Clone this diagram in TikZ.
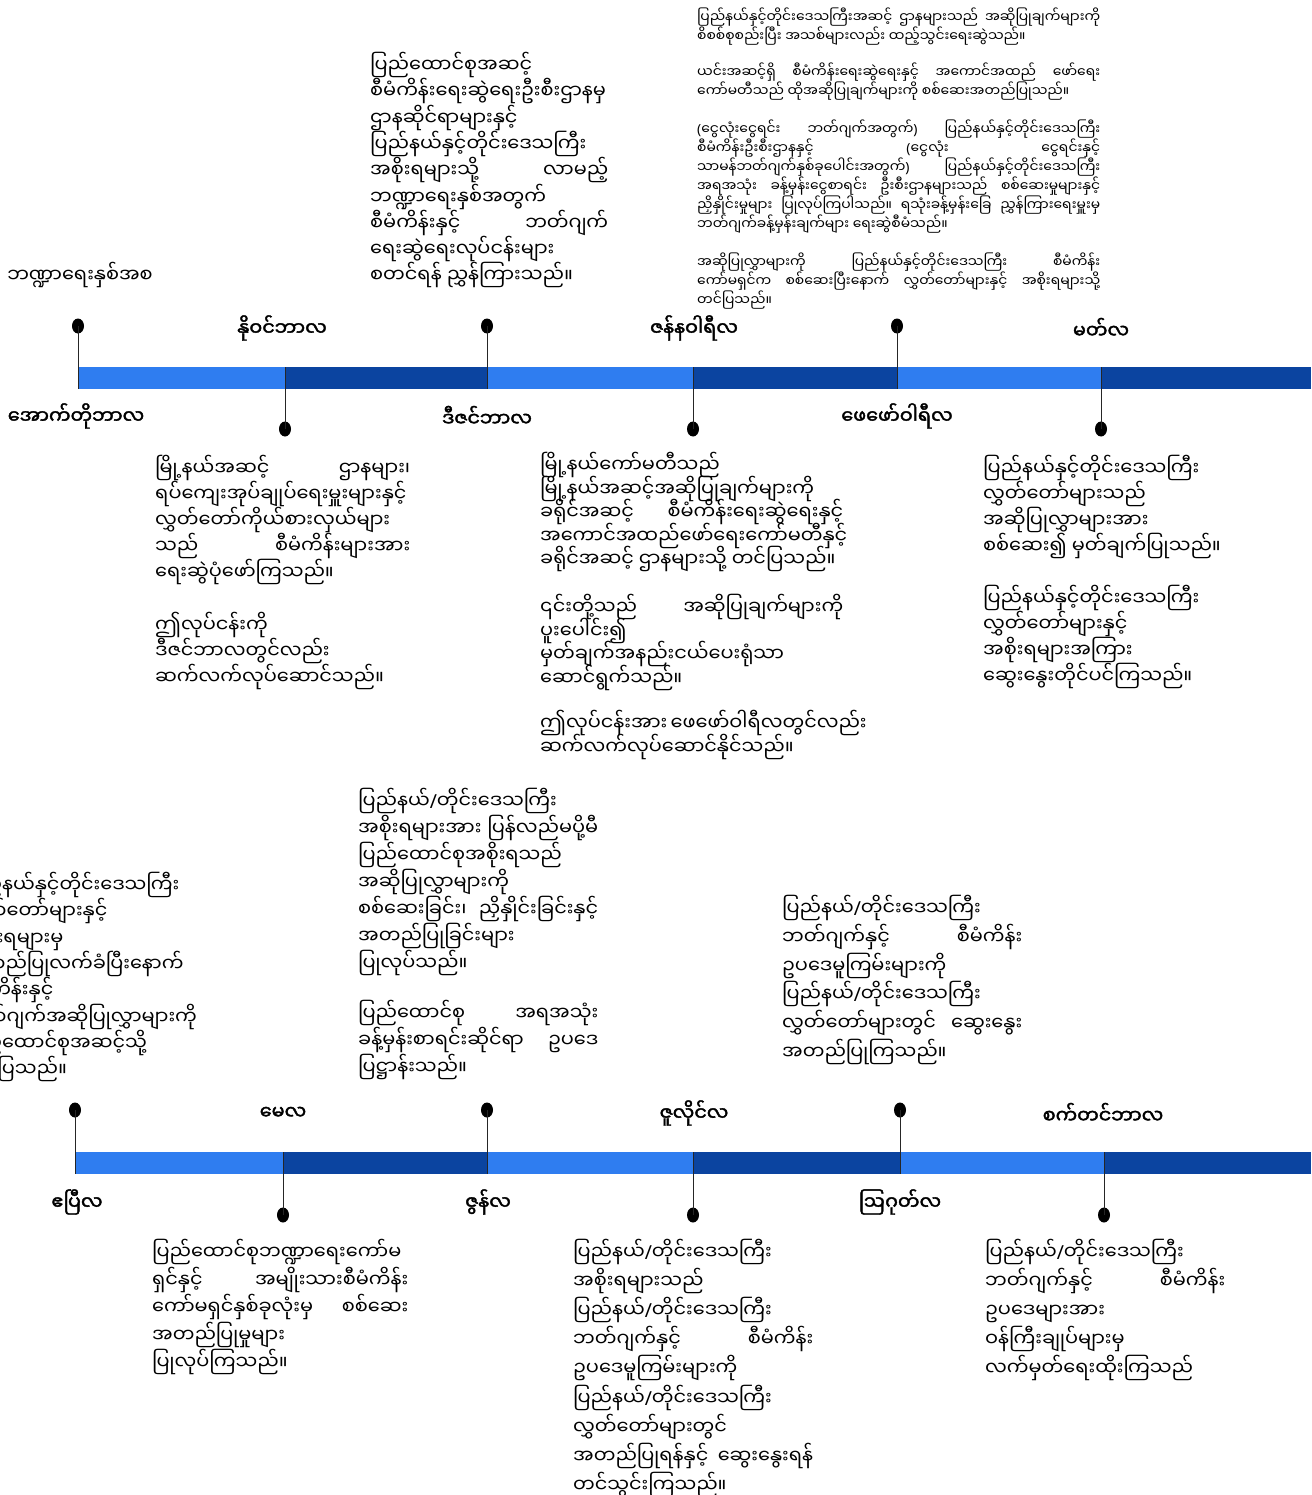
\documentclass[tikz,border=0pt]{standalone}
\usepackage{fontspec}
\usepackage{tikz}
\usetikzlibrary{positioning,shapes.geometric}
\newfontfamily\mm[Script=Myanmar,AutoFakeBold=2]{Noto Sans Myanmar UI}
\newfontfamily\latinfont{Noto Sans}
\newcommand\mmslash{{\latinfont/}}
\newcommand\mmopen{{\latinfont(}}
\newcommand\mmclose{{\latinfont)}}
\newcommand\tightlines{\lineskiplimit=-40pt\lineskip=0pt}
\definecolor{barlight}{RGB}{47,125,240}
\definecolor{bardark}{RGB}{11,68,160}

\begin{document}
\begin{tikzpicture}[
  x=1pt, y=-1pt,
  month/.style={font=\mm\bfseries\fontsize{19.2}{24}\selectfont, inner sep=0pt},
  note/.style 2 args={inner sep=0pt, anchor=north west, align=justify, text width=#1,
    font=\mm\fontsize{19.3}{#2}\selectfont\tightlines},
  fine/.style 2 args={inner sep=0pt, anchor=north west, align=justify, text width=#1,
    font=\mm\fontsize{13.9}{#2}\selectfont\tightlines},
  dot/.style={ellipse, fill=black, minimum width=12pt, minimum height=15pt, inner sep=0pt},
  tick/.style={draw=black!85, line width=1pt},
]
\clip (0,0) rectangle (1311,1495);
\useasboundingbox (0,0) rectangle (1311,1495);

\foreach \a/\b/\c in {78/285/barlight,285/487/bardark,487/693/barlight,693/897/bardark,897/1101/barlight,1101/1311/bardark}
  \fill[\c] (\a,367) rectangle (\b,389);
\foreach \a/\b/\c in {75/283/barlight,283/487/bardark,487/693/barlight,693/900/bardark,900/1104/barlight,1104/1311/bardark}
  \fill[\c] (\a,1152) rectangle (\b,1174);

\node[dot] (d1) at (78,326) {};
\node[dot] (d2) at (285,429) {};
\node[dot] (d3) at (487,326) {};
\node[dot] (d4) at (693,429) {};
\node[dot] (d5) at (897,326) {};
\node[dot] (d6) at (1101,429) {};
\node[dot] (e1) at (75,1110) {};
\node[dot] (e2) at (283,1215) {};
\node[dot] (e3) at (487,1110) {};
\node[dot] (e4) at (693,1215) {};
\node[dot] (e5) at (900,1110) {};
\node[dot] (e6) at (1104,1215) {};

\coordinate (b1) at (78,389);
\coordinate (b2) at (285,367);
\coordinate (b3) at (487,389);
\coordinate (b4) at (693,367);
\coordinate (b5) at (897,389);
\coordinate (b6) at (1101,367);
\coordinate (c1) at (75,1174);
\coordinate (c2) at (283,1152);
\coordinate (c3) at (487,1174);
\coordinate (c4) at (693,1152);
\coordinate (c5) at (900,1174);
\coordinate (c6) at (1104,1152);

\draw[tick] (d1.center) -- (b1);
\draw[tick] (d2.center) -- (b2);
\draw[tick] (d3.center) -- (b3);
\draw[tick] (d4.center) -- (b4);
\draw[tick] (d5.center) -- (b5);
\draw[tick] (d6.center) -- (b6);
\draw[tick] (e1.center) -- (c1);
\draw[tick] (e2.center) -- (c2);
\draw[tick] (e3.center) -- (c3);
\draw[tick] (e4.center) -- (c4);
\draw[tick] (e5.center) -- (c5);
\draw[tick] (e6.center) -- (c6);

\node[month] (oct) at (76,416) {အောက်တိုဘာလ};
\node[month] (nov) at (282,328) {နိုဝင်ဘာလ};
\node[month] (dec) at (487,416) {ဒီဇင်ဘာလ};
\node[month] (jan) at (694,328) {ဇန်နဝါရီလ};
\node[month] (feb) at (897,416) {ဖေဖော်ဝါရီလ};
\node[month] (mar) at (1101,328) {မတ်လ};
\node[month] (apr) at (77,1202) {ဧပြီလ};
\node[month] (may) at (283,1113) {မေလ};
\node[month] (jun) at (488,1202) {ဇွန်လ};
\node[month] (jul) at (694,1113) {ဇူလိုင်လ};
\node[month] (aug) at (900,1202) {ဩဂုတ်လ};
\node[month] (sep) at (1103,1113) {စက်တင်ဘာလ};

\node[inner sep=0pt, font=\mm\fontsize{19.3}{24}\selectfont] (tstart) at (80,275) {ဘဏ္ဍာရေးနှစ်အစ};

\node[note={238pt}{26.3pt}] (tdec) at (370,52) {ပြည်ထောင်စုအဆင့်\\
စီမံကိန်းရေးဆွဲရေးဦးစီးဌာနမှ\\
ဌာနဆိုင်ရာများနှင့်\\
ပြည်နယ်နှင့်တိုင်းဒေသကြီး\\
အစိုးရများသို့~လာမည့်\linebreak
ဘဏ္ဍာရေးနှစ်အတွက်\\
စီမံကိန်းနှင့်~ဘတ်ဂျက်\linebreak
ရေးဆွဲရေးလုပ်ငန်းများ\\
စတင်ရန်~ညွှန်ကြားသည်။};

\node[fine={403pt}{19pt}] (tfeb) at (697,8) {ပြည်နယ်နှင့်တိုင်းဒေသကြီးအဆင့်~ဌာနများသည်~အဆိုပြုချက်များကို\linebreak
စိစစ်စုစည်းပြီး~အသစ်များလည်း~ထည့်သွင်းရေးဆွဲသည်။\\[17pt]
ယင်းအဆင့်ရှိ~စီမံကိန်းရေးဆွဲရေးနှင့်~အကောင်အထည်~ဖော်ရေး\linebreak
ကော်မတီသည်~ထိုအဆိုပြုချက်များကို~စစ်ဆေးအတည်ပြုသည်။\\[19pt]
\mmopen ငွေလုံးငွေရင်း~ဘတ်ဂျက်အတွက်\mmclose~ပြည်နယ်နှင့်တိုင်းဒေသကြီး\linebreak
စီမံကိန်းဦးစီးဌာနနှင့်~\mmopen ငွေလုံး~ငွေရင်းနှင့်\linebreak
သာမန်ဘတ်ဂျက်နှစ်ခုပေါင်းအတွက်\mmclose~ပြည်နယ်နှင့်တိုင်းဒေသကြီး\linebreak
အရအသုံး~ခန့်မှန်းငွေစာရင်း~ဦးစီးဌာနများသည်~စစ်ဆေးမှုများနှင့်\linebreak
ညှိနှိုင်းမှုများ~ပြုလုပ်ကြပါသည်။~ရသုံးခန့်မှန်းခြေ~ညွှန်ကြားရေးမှူးမှ\linebreak
ဘတ်ဂျက်ခန့်မှန်းချက်များ~ရေးဆွဲစီမံသည်။\\[19pt]
အဆိုပြုလွှာများကို~ပြည်နယ်နှင့်တိုင်းဒေသကြီး~စီမံကိန်း\linebreak
ကော်မရှင်က~စစ်ဆေးပြီးနောက်~လွှတ်တော်များနှင့်~အစိုးရများသို့\linebreak
တင်ပြသည်။};

\node[note={255pt}{26pt}] (tnov) at (155,455) {မြို့နယ်အဆင့်~ဌာနများ၊\linebreak
ရပ်ကျေးအုပ်ချုပ်ရေးမှူးများနှင့်\\
လွှတ်တော်ကိုယ်စားလှယ်များ\\
သည်~စီမံကိန်းများအား\linebreak
ရေးဆွဲပုံဖော်ကြသည်။\\[27pt]
ဤလုပ်ငန်းကို\\
ဒီဇင်ဘာလတွင်လည်း\\
ဆက်လက်လုပ်ဆောင်သည်။};

\node[note={303pt}{23.6pt}] (tjan) at (540,452) {မြို့နယ်ကော်မတီသည်\\
မြို့နယ်အဆင့်အဆိုပြုချက်များကို\\
ခရိုင်အဆင့်~စီမံကိန်းရေးဆွဲရေးနှင့်\linebreak
အကောင်အထည်ဖော်ရေးကော်မတီနှင့်\\
ခရိုင်အဆင့်~ဌာနများသို့~တင်ပြသည်။\\[24pt]
၎င်းတို့သည်~အဆိုပြုချက်များကို\linebreak
ပူးပေါင်း၍\\
မှတ်ချက်အနည်းငယ်ပေးရုံသာ\\
ဆောင်ရွက်သည်။\\[22pt]
ဤလုပ်ငန်းအား~ဖေဖော်ဝါရီလတွင်လည်း\linebreak
ဆက်လက်လုပ်ဆောင်နိုင်သည်။};

\node[note={240pt}{26pt}] (tmar) at (983,455) {ပြည်နယ်နှင့်တိုင်းဒေသကြီး\\
လွှတ်တော်များသည်\\
အဆိုပြုလွှာများအား\\
စစ်ဆေး၍~မှတ်ချက်ပြုသည်။\\[26pt]
ပြည်နယ်နှင့်တိုင်းဒေသကြီး\\
လွှတ်တော်များနှင့်\\
အစိုးရများအကြား\\
ဆွေးနွေးတိုင်ပင်ကြသည်။};

\node[note={235pt}{26.3pt}] (tapr) at (-37,872) {ပြည်နယ်နှင့်တိုင်းဒေသကြီး\\
လွှတ်တော်များနှင့်\\
အစိုးရများမှ\\
အတည်ပြုလက်ခံပြီးနောက်\\
စီမံကိန်းနှင့်\\
ဘတ်ဂျက်အဆိုပြုလွှာများကို\\
ပြည်ထောင်စုအဆင့်သို့\\
တင်ပြသည်။};

\node[note={240pt}{27pt}] (tjun) at (358,788) {ပြည်နယ်\mmslash တိုင်းဒေသကြီး\\
အစိုးရများအား~ပြန်လည်မပို့မီ\linebreak
ပြည်ထောင်စုအစိုးရသည်\\
အဆိုပြုလွှာများကို\\
စစ်ဆေးခြင်း၊~ညှိနှိုင်းခြင်းနှင့်\linebreak
အတည်ပြုခြင်းများ\\
ပြုလုပ်သည်။\\[23pt]
ပြည်ထောင်စု~အရအသုံး\linebreak
ခန့်မှန်းစာရင်းဆိုင်ရာ~ဥပဒေ\linebreak
ပြဋ္ဌာန်းသည်။};

\node[note={240pt}{28.8pt}] (taug) at (782,895) {ပြည်နယ်\mmslash တိုင်းဒေသကြီး\\
ဘတ်ဂျက်နှင့်~စီမံကိန်း\linebreak
ဥပဒေမူကြမ်းများကို\\
ပြည်နယ်\mmslash တိုင်းဒေသကြီး\\
လွှတ်တော်များတွင်~ဆွေးနွေး\linebreak
အတည်ပြုကြသည်။};

\node[note={256pt}{27.5pt}] (tmay) at (152,1239) {ပြည်ထောင်စုဘဏ္ဍာရေးကော်မ\\
ရှင်နှင့်~အမျိုးသားစီမံကိန်း\linebreak
ကော်မရှင်နှစ်ခုလုံးမှ~စစ်ဆေး\linebreak
အတည်ပြုမှုများ\\
ပြုလုပ်ကြသည်။};

\node[note={240pt}{29.1pt}] (tjul) at (573,1239) {ပြည်နယ်\mmslash တိုင်းဒေသကြီး\\
အစိုးရများသည်\\
ပြည်နယ်\mmslash တိုင်းဒေသကြီး\\
ဘတ်ဂျက်နှင့်~စီမံကိန်း\linebreak
ဥပဒေမူကြမ်းများကို\\
ပြည်နယ်\mmslash တိုင်းဒေသကြီး\\
လွှတ်တော်များတွင်\\
အတည်ပြုရန်နှင့်~ဆွေးနွေးရန်\linebreak
တင်သွင်းကြသည်။};

\node[note={240pt}{29pt}] (tsep) at (985,1239) {ပြည်နယ်\mmslash တိုင်းဒေသကြီး\\
ဘတ်ဂျက်နှင့်~စီမံကိန်း\linebreak
ဥပဒေများအား\\
ဝန်ကြီးချုပ်များမှ\\
လက်မှတ်ရေးထိုးကြသည်};
\end{tikzpicture}
\end{document}
